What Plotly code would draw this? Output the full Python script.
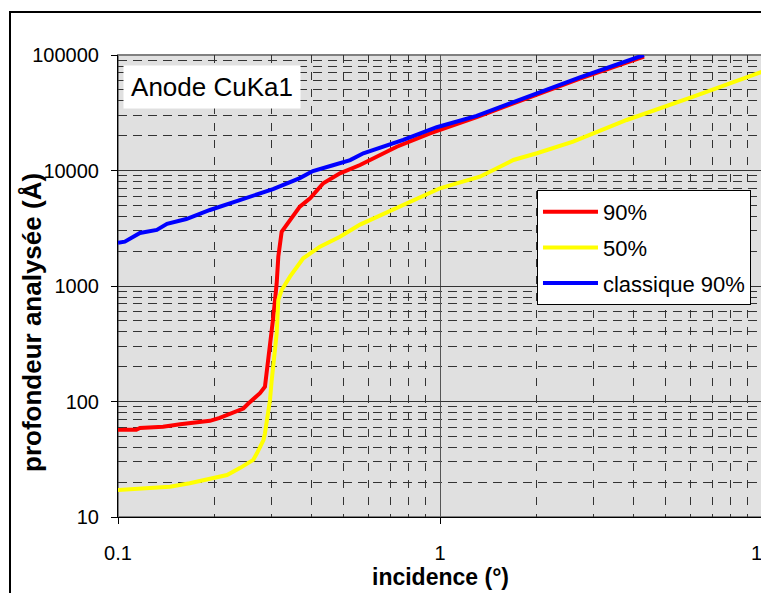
import plotly.graph_objects as go

# ---- data (incidence in degrees, depth in Angstrom) ----
red_x = [0.1, 0.114, 0.117, 0.138, 0.156, 0.176, 0.193, 0.207, 0.228, 0.245, 0.254,
         0.276, 0.286, 0.2895, 0.2965, 0.3036, 0.311, 0.3147, 0.3223, 0.342, 0.367,
         0.395, 0.434, 0.489, 0.5645, 0.734, 0.931, 1.30, 2.0, 2.72, 4.3]
red_y = [57, 57, 59, 60.5, 63.5, 66, 68, 72, 81, 87, 96,
         118, 134, 175, 280, 540, 1050, 1800, 2950, 3730, 4860,
         5750, 7750, 9460, 11160, 16070, 21000, 29000, 45500, 62500, 97000]

yellow_x = [0.1, 0.126, 0.145, 0.167, 0.193, 0.218, 0.239, 0.263, 0.27, 0.283, 0.286,
            0.293, 0.2965, 0.300, 0.3036, 0.311, 0.3147, 0.3223, 0.342, 0.359, 0.376,
            0.424, 0.489, 0.5645, 0.826, 1.0, 1.127, 1.33, 1.69, 2.0, 2.59, 3.8, 6.12, 10]
yellow_y = [17.1, 17.7, 18.3, 19.6, 21.5, 23.1, 26.5, 31.2, 35.6, 46.4, 53,
            79, 103, 150, 200, 389, 757, 923, 1205, 1469, 1738,
            2188, 2672, 3400, 5555, 7015, 7745, 8840, 12330, 14100, 17750, 27370, 43550, 71700]

blue_x = [0.1, 0.105, 0.117, 0.132, 0.142, 0.163, 0.193, 0.245, 0.303, 0.367, 0.403,
          0.465, 0.526, 0.578, 0.769, 0.977, 1.30, 2.0, 2.72, 4.3]
blue_y = [2370, 2420, 2880, 3060, 3450, 3800, 4550, 5670, 6900, 8600, 9900,
          11100, 12300, 14100, 18400, 23700, 29700, 46600, 64000, 100000]

series_names = ["90%", "50%", "classique 90%"]
series_colors = ["#ff0000", "#ffff00", "#0000ff"]

x_tickvals = [0.1, 1, 10]
x_ticktext = ["0.1", "1", "10"]
y_tickvals = [10, 100, 1000, 10000, 100000]
y_ticktext = ["10", "100", "1000", "10000", "100000"]

x_minor = [m * 10 ** e for e in (-1, 0) for m in range(2, 10)]
y_minor = [m * 10 ** e for e in (1, 2, 3, 4) for m in range(2, 10)]

FONT = "Liberation Sans, Arial, sans-serif"

fig = go.Figure()
for xs, ys, name, col in zip([red_x, yellow_x, blue_x], [red_y, yellow_y, blue_y],
                             series_names, series_colors):
    fig.add_trace(go.Scatter(x=xs, y=ys, mode="lines", name=name, legendgroup=name,
                             line=dict(color=col, width=4)))

# page body has an 8px margin: figure is sized/placed so the plot lands where the reference has it
fig.update_layout(
    width=761, height=585,
    margin=dict(l=110, r=7, t=47, b=76, autoexpand=False),
    paper_bgcolor="white",
    plot_bgcolor="#e0e0e0",
    font=dict(family=FONT, color="black"),
    showlegend=True,
    legend=dict(x=0.6506, y=0.7078, xanchor="left", yanchor="top",
                bgcolor="white", bordercolor="black", borderwidth=1,
                font=dict(size=22, family=FONT), traceorder="grouped",
                tracegroupgap=4, itemwidth=55),
)

fig.update_xaxes(
    type="log", range=[-1, 1], automargin=False,
    tickmode="array", tickvals=x_tickvals, ticktext=x_ticktext,
    ticks="outside", ticklen=6, tickcolor="black",
    tickfont=dict(size=20, family=FONT), ticklabelstandoff=12,
    ticklabeloverflow="allow",
    showline=True, linecolor="black", linewidth=1,
    showgrid=True, gridcolor="#555555", gridwidth=1, zeroline=False,
    minor=dict(tickmode="array", tickvals=x_minor, showgrid=True,
               gridcolor="#333333", gridwidth=1, griddash="8px,9px", ticks=""),
)
fig.update_yaxes(
    type="log", range=[1, 5], automargin=False,
    tickmode="array", tickvals=y_tickvals, ticktext=y_ticktext,
    ticks="outside", ticklen=6, tickcolor="black",
    tickfont=dict(size=20, family=FONT), ticklabelstandoff=8,
    showline=True, linecolor="black", linewidth=1,
    showgrid=True, gridcolor="#333333", gridwidth=1, zeroline=False,
    minor=dict(tickmode="array", tickvals=y_minor, showgrid=True,
               gridcolor="#333333", gridwidth=1, griddash="9px,6px",
               ticks="inside", ticklen=5, tickcolor="#333333"),
)

# plot-area border (gray) and outer chart frame
fig.add_shape(type="rect", xref="paper", yref="paper", x0=0, x1=1, y0=0, y1=1,
              line=dict(color="#808080", width=2), layer="below")
fig.add_shape(type="rect", xref="paper", yref="paper", x0=-0.1677, x1=1.2, y0=-0.4, y1=1.0931,
              line=dict(color="black", width=2))

fig.add_annotation(text="Anode CuKa1", xref="paper", yref="paper", x=0.0078, y=0.978,
                   xanchor="left", yanchor="top", showarrow=False,
                   font=dict(size=26, family=FONT), bgcolor="white", borderpad=0,
                   width=176, height=42, align="center", valign="middle")
fig.add_annotation(text="<b>profondeur analysée (Å)</b>", xref="paper", yref="paper",
                   x=-0.1335, y=0.42, xanchor="center", yanchor="middle", textangle=-90,
                   showarrow=False, font=dict(size=26, family=FONT))
fig.add_annotation(text="<b>incidence (°)</b>", xref="paper", yref="paper",
                   x=0.5, y=-0.13, xanchor="center", yanchor="middle",
                   showarrow=False, font=dict(size=23, family=FONT))

fig.write_html("out.html")
